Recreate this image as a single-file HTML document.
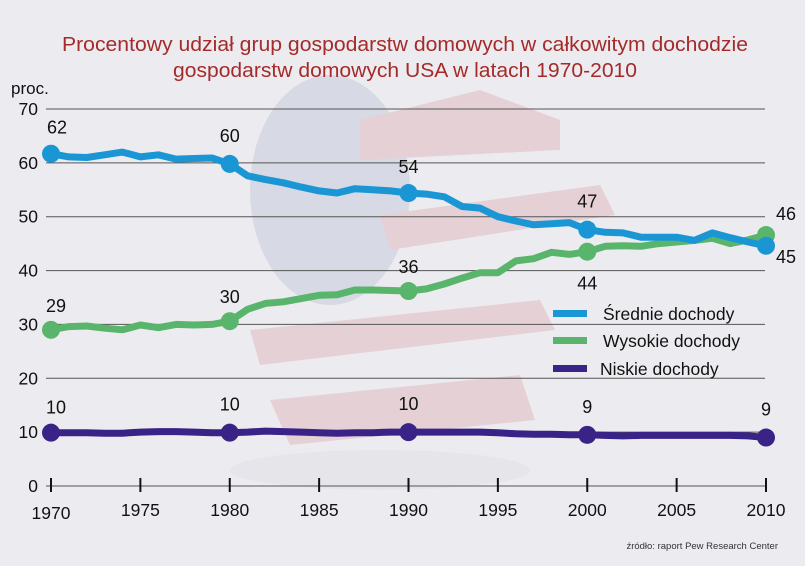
<!DOCTYPE html>
<html><head><meta charset="utf-8">
<style>
html,body{margin:0;padding:0;background:#ececf0;}
svg{display:block;font-family:"Liberation Sans",sans-serif;}
</style></head>
<body>
<svg id="chart" width="805" height="566" viewBox="0 0 805 566" xmlns="http://www.w3.org/2000/svg">
<rect x="0" y="0" width="805" height="566" fill="#ececf0"/>
<g opacity="0.4">
  <ellipse cx="330" cy="190" rx="80" ry="115" fill="#b9bdd4"/>
  <path d="M360 120 L480 90 L560 120 L560 150 L360 160 Z" fill="#dba8b0"/>
  <path d="M380 215 L600 185 L615 215 L390 250 Z" fill="#dba8b0"/>
  <path d="M250 330 L540 300 L555 330 L260 365 Z" fill="#dba8b0"/>
  <path d="M270 400 L520 375 L535 420 L290 445 Z" fill="#dba8b0"/>
  <ellipse cx="380" cy="470" rx="150" ry="20" fill="#dcdce3"/>
</g>
<g id="grid"></g>
<g id="axes"></g>
<g id="series"></g>
<g id="labels"></g>
<text x="405" y="51" text-anchor="middle" font-size="20.5" fill="#a52a2a" textLength="686" lengthAdjust="spacingAndGlyphs">Procentowy udział grup gospodarstw domowych w całkowitym dochodzie</text>
<text x="405" y="77" text-anchor="middle" font-size="20.5" fill="#a52a2a" textLength="464" lengthAdjust="spacingAndGlyphs">gospodarstw domowych USA w latach 1970-2010</text>
<text x="11" y="94" font-size="17" fill="#111">proc.</text>
<g>
  <rect x="553" y="310" width="34" height="7" fill="#1a96d4"/>
  <text x="603" y="320" font-size="17.5" fill="#111">Średnie dochody</text>
  <rect x="553" y="337" width="34" height="7" fill="#5ab56c"/>
  <text x="603" y="347" font-size="17.5" fill="#111">Wysokie dochody</text>
  <rect x="553" y="365" width="34" height="7" fill="#3a2386"/>
  <text x="600" y="375" font-size="17.5" fill="#111">Niskie dochody</text>
</g>
<text x="778" y="549" text-anchor="end" font-size="9.5" fill="#333">źródło: raport Pew Research Center</text>
</svg>
<script>
const years = [];
for (let y = 1970; y <= 2010; y++) years.push(y);
const middleIncome = [61.7,61.1,61.0,61.5,62.0,61.1,61.5,60.7,60.8,60.9,59.8,57.6,56.9,56.3,55.5,54.8,54.4,55.2,55.0,54.8,54.4,54.2,53.7,51.9,51.6,50.0,49.2,48.5,48.7,48.9,47.6,47.1,47.0,46.2,46.2,46.2,45.6,47.0,46.1,45.3,44.6];
const upperIncome = [29.0,29.6,29.7,29.3,29.0,29.9,29.4,30.0,29.9,30.0,30.6,32.8,33.9,34.2,34.8,35.4,35.5,36.4,36.4,36.3,36.2,36.6,37.5,38.6,39.6,39.6,41.8,42.2,43.4,43.0,43.5,44.5,44.6,44.5,45.0,45.3,45.6,46.0,45.0,45.7,46.6];
const lowerIncome = [9.9,9.9,9.9,9.8,9.8,10.0,10.1,10.1,10.0,9.9,9.9,10.0,10.2,10.1,10.0,9.9,9.8,9.9,9.9,10.0,10.0,10.0,10.0,10.0,10.0,9.9,9.7,9.6,9.6,9.5,9.5,9.4,9.3,9.4,9.4,9.4,9.4,9.4,9.4,9.3,9.0];
const markerYears = [1970,1980,1990,2000,2010];
const middleLabels = ["62","60","54","47","45"];
const upperLabels = ["29","30","36","44","46"];
const lowerLabels = ["10","10","10","9","9"];
const yTicks = [0,10,20,30,40,50,60,70];
const xTicks = [1970,1975,1980,1985,1990,1995,2000,2005,2010];

const NS = "http://www.w3.org/2000/svg";
const x = v => 51 + (v - 1970) * (766 - 51) / 40;
const y = v => 486 - v * (486 - 109) / 70;
function mk(tag, parent, attrs){const e=document.createElementNS(NS,tag);for(const k in attrs)e.setAttribute(k,attrs[k]);parent.appendChild(e);return e;}
const grid=document.getElementById('grid'), axes=document.getElementById('axes'), series=document.getElementById('series'), labels=document.getElementById('labels');

yTicks.forEach(t=>{
  if(t>0){const l=mk('line',grid,{x1:46,x2:765,y1:y(t),y2:y(t),stroke:'#555','stroke-width':1});
  
  }
  const tx=mk('text',axes,{x:38,y:y(t)+6,'text-anchor':'end','font-size':17.5,fill:'#111'});
  tx.textContent=t;
  
  
});
const ax=mk('line',axes,{x1:46,x2:765,y1:y(0),y2:y(0),stroke:'#555','stroke-width':1});


xTicks.forEach(t=>{
  const tk=mk('line',axes,{x1:x(t),x2:x(t),y1:478,y2:492,stroke:'#111','stroke-width':2});
  
  
  const tx=mk('text',axes,{x:x(t),y:t===1970?519:516,'text-anchor':'middle','font-size':17.5,fill:'#111'});
  tx.textContent=t;
  
  
});

function drawSeries(vals,color,name,lbls,offsets){
  const d=vals.map((v,i)=>(i?'L':'M')+x(years[i]).toFixed(1)+' '+y(v).toFixed(1)).join(' ');
  const p=mk('path',series,{d:d,fill:'none',stroke:color,'stroke-width':7,'stroke-linejoin':'round','stroke-linecap':'round'});
  
  
  markerYears.forEach((yr,i)=>{
    const v=vals[years.indexOf(yr)];
    const c=mk('circle',series,{cx:x(yr),cy:y(v),r:9,fill:color});
    
    
    const o=offsets[i];
    const t=mk('text',labels,{x:x(yr)+o[0],y:y(v)+o[1],'text-anchor':'middle','font-size':18,fill:'#111'});
    t.textContent=lbls[i];
    
    
  });
}
drawSeries(upperIncome,'#5ab56c','upper-income',upperLabels,[[5,-18],[0,-18],[0,-18],[0,38],[20,-15]]);
drawSeries(middleIncome,'#1a96d4','middle-income',middleLabels,[[6,-20],[0,-22],[0,-20],[0,-22],[20,17]]);
drawSeries(lowerIncome,'#3a2386','lower-income',lowerLabels,[[5,-19],[0,-22],[0,-22],[0,-22],[0,-22]]);
</script>
</body></html>
